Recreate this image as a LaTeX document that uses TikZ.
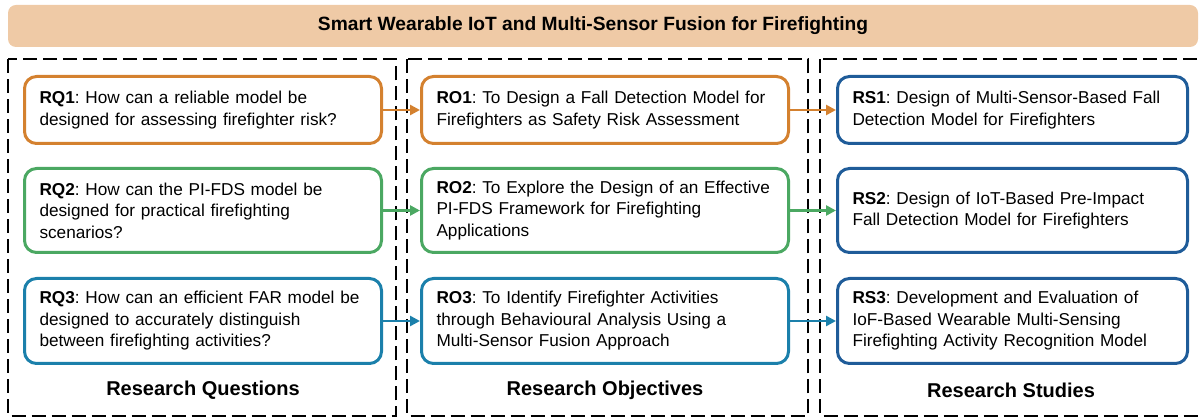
\documentclass[tikz,border=0pt]{standalone}
\usepackage{fontspec}
\setmainfont{Liberation Sans}
\usetikzlibrary{arrows.meta}
\definecolor{cOr}{HTML}{D4812F}
\definecolor{cGr}{HTML}{4BA862}
\definecolor{cTe}{HTML}{1B80AB}
\definecolor{cBl}{HTML}{1F5C99}
\definecolor{cTan}{HTML}{EFCAA6}
\frenchspacing
\hyphenpenalty=10000
\begin{document}
\begin{tikzpicture}[x=1pt,y=-1pt,
  box/.style={draw, line width=3pt, rounded corners=12pt, fill=white,
    inner xsep=15pt, inner ysep=0pt, align=left,
    font=\fontsize{17.2}{21.5}\selectfont},
  qcol/.style={text width=327pt},
  ocol/.style={text width=337pt},
  scol/.style={text width=320pt},
  r1/.style={minimum height=67pt},
  r2/.style={minimum height=84pt},
  r3/.style={minimum height=85pt},
  panel/.style={draw, line width=2pt, dash pattern=on 14pt off 6pt},
  sec/.style={font=\bfseries\fontsize{20}{24}\selectfont},
  link/.style={line width=2.5pt, -{Triangle[length=10pt,width=10pt]}}]
\useasboundingbox (0,0) rectangle (1203,419);
% title
\fill[cTan, rounded corners=8pt] (8,5) rectangle (1198,47);
\node[font=\bfseries\fontsize{19.2}{23}\selectfont] (title) at (593,26) {Smart Wearable IoT and Multi-Sensor Fusion for Firefighting};
% panels
\draw[panel] (8,59.5) rectangle (396,416);
\draw[panel] (407,59.5) rectangle (808,416);
\draw[panel] (820,59.5) rectangle (1212,416);
% RQ
\node[box, qcol, r1, draw=cOr] (rq1) at (203,110) {\textbf{RQ1}: How can a reliable model be\\designed for assessing firefighter risk?};
\node[box, qcol, r2, draw=cGr] (rq2) at (203,210.5) {\textbf{RQ2}: How can the PI-FDS model be\\designed for practical firefighting\\scenarios?};
\node[box, qcol, r3, draw=cTe] (rq3) at (203,321) {\textbf{RQ3}: How can an efficient FAR model be\\designed to accurately distinguish\\between firefighting activities?};
% RO
\node[box, ocol, r1, draw=cOr] (ro1) at (605,110) {\textbf{RO1}: To Design a Fall Detection Model for\\Firefighters as Safety Risk Assessment};
\node[box, ocol, r2, draw=cGr] (ro2) at (605,210.5) {\textbf{RO2}: To Explore the Design of an Effective\\PI-FDS Framework for Firefighting\\Applications};
\node[box, ocol, r3, draw=cTe] (ro3) at (605,321) {\textbf{RO3}: To Identify Firefighter Activities\\through Behavioural Analysis Using a\\Multi-Sensor Fusion Approach};
% RS
\node[box, scol, r1, draw=cBl] (rs1) at (1012.5,110) {\textbf{RS1}: Design of Multi-Sensor-Based Fall\\Detection Model for Firefighters};
\node[box, scol, r2, draw=cBl] (rs2) at (1012.5,210.5) {\textbf{RS2}: Design of IoT-Based Pre-Impact\\Fall Detection Model for Firefighters};
\node[box, scol, r3, draw=cBl] (rs3) at (1012.5,321) {\textbf{RS3}: Development and Evaluation of\\IoF-Based Wearable Multi-Sensing\\Firefighting Activity Recognition Model};
% arrows
\draw[link, cOr] (rq1.east) -- (ro1.west);
\draw[link, cGr] (rq2.east) -- (ro2.west);
\draw[link, cTe] (rq3.east) -- (ro3.west);
\draw[link, cOr] (ro1.east) -- (rs1.west);
\draw[link, cGr] (ro2.east) -- (rs2.west);
\draw[link, cTe] (ro3.east) -- (rs3.west);
% section labels
\node[sec] (lq) at (203,390) {Research Questions};
\node[sec] (lo) at (605,390) {Research Objectives};
\node[sec] (ls) at (1011,390) {Research Studies};
\end{tikzpicture}
\end{document}
